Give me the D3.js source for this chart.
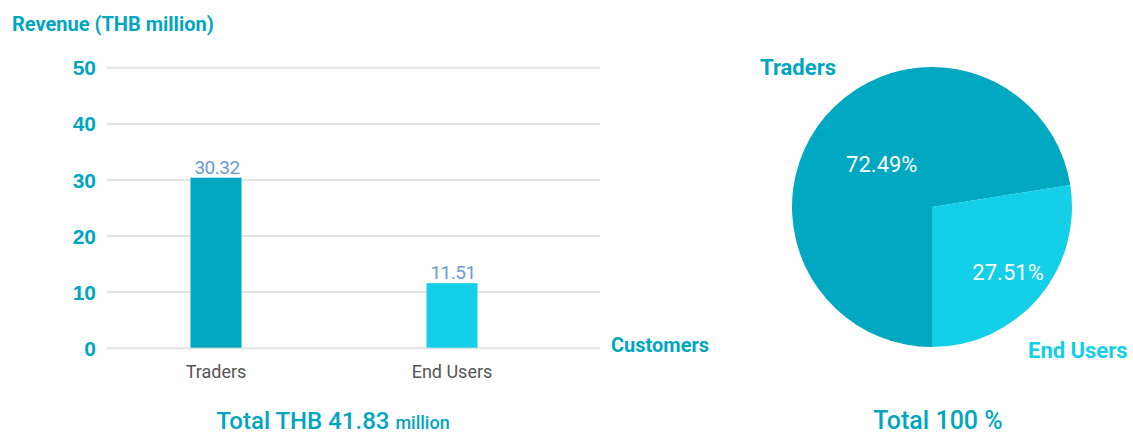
<!DOCTYPE html>
<html>
<head>
<meta charset="utf-8">
<script src="https://cdn.jsdelivr.net/npm/d3@7"></script>
<style>
  html, body { margin: 0; padding: 0; background: #ffffff; }
  svg { display: block; font-family: Roboto, "Noto Sans", sans-serif; }
</style>
</head>
<body>
<svg id="chart" width="1133" height="435"></svg>
<script>
// Revenue by customer group
const categories = ["Traders", "End Users"];
const revenue = [30.32, 11.51];               // THB million
const revenueLabels = ["30.32", "11.51"];
const yTicks = [0, 10, 20, 30, 40, 50];
const shares = [72.49, 27.51];                // % of total revenue
const shareLabels = ["72.49%", "27.51%"];
const totalRevenueText = "41.83";

const TEAL = "#00A8C1";
const CYAN = "#13CFE8";
const barColors = [TEAL, CYAN];
const TEXT_TEAL = "#00A6BF";

const svg = d3.select("#chart");

// ---------- Bar chart ----------
const x = d3.scalePoint().domain(categories).range([98, 570]).padding(0.5);
const y = d3.scaleLinear().domain([0, 50]).range([347.7, 67.3]);
const barWidth = 51;
const gridLeft = 107, gridRight = 600;

const yAxis = svg.append("g")
  .attr("transform", `translate(${gridLeft},0)`)
  .call(d3.axisLeft(y).tickValues(yTicks).tickSize(-(gridRight - gridLeft)).tickPadding(11));
yAxis.select(".domain").remove();
yAxis.selectAll(".tick line").attr("stroke", "#e3e3e3").attr("stroke-width", 2);
yAxis.selectAll(".tick text")
  .attr("fill", TEXT_TEAL)
  .style("font-size", "21px")
  .style("font-weight", "700")
  .attr("dy", "0.36em");

svg.append("text")
  .attr("x", 12).attr("y", 31)
  .attr("fill", TEXT_TEAL)
  .style("font-size", "20px").style("font-weight", "700")
  .text("Revenue (THB million)");

svg.append("g").selectAll("rect")
  .data(categories)
  .join("rect")
  .attr("x", d => x(d) - barWidth / 2)
  .attr("y", (d, i) => y(revenue[i]))
  .attr("width", barWidth)
  .attr("height", (d, i) => y(0) - y(revenue[i]))
  .attr("fill", (d, i) => barColors[i]);

svg.append("g").selectAll("text")
  .data(categories)
  .join("text")
  .attr("x", d => x(d) + 1)
  .attr("y", (d, i) => y(revenue[i]) - 4)
  .attr("text-anchor", "middle")
  .attr("fill", "#6A9BD1")
  .style("font-size", "19px")
  .style("letter-spacing", "-0.5px")
  .text((d, i) => revenueLabels[i]);

svg.append("g").selectAll("text")
  .data(categories)
  .join("text")
  .attr("x", d => x(d))
  .attr("y", 378)
  .attr("text-anchor", "middle")
  .attr("fill", "#555555")
  .style("font-size", "18px")
  .text(d => d);

svg.append("text")
  .attr("x", 611).attr("y", 352)
  .attr("fill", TEXT_TEAL)
  .style("font-size", "20px").style("font-weight", "700")
  .text("Customers");

const totalBar = svg.append("text")
  .attr("x", 333).attr("y", 429)
  .attr("text-anchor", "middle")
  .attr("fill", TEXT_TEAL)
  .style("font-weight", "500");
totalBar.append("tspan").style("font-size", "24px").text(`Total THB ${totalRevenueText} `);
totalBar.append("tspan").style("font-size", "18px").text("million");

// ---------- Pie chart ----------
const cx = 932, cy = 207, radius = 140;
const pie = d3.pie().sort(null).startAngle(Math.PI).endAngle(3 * Math.PI);
const arcs = pie(shares);
const arc = d3.arc().innerRadius(0).outerRadius(radius);
const labelRadius = [66, 100];

const pieG = svg.append("g").attr("transform", `translate(${cx},${cy})`);
pieG.selectAll("path")
  .data(arcs)
  .join("path")
  .attr("d", arc)
  .attr("fill", (d, i) => barColors[i]);

pieG.selectAll("text.pct")
  .data(arcs)
  .join("text")
  .attr("class", "pct")
  .attr("transform", (d, i) => {
    const c = d3.arc().innerRadius(labelRadius[i]).outerRadius(labelRadius[i]).centroid(d);
    return `translate(${c[0]},${c[1]})`;
  })
  .attr("text-anchor", "middle")
  .attr("dy", "0.36em")
  .attr("fill", "#ffffff")
  .style("font-size", "22px")
  .text((d, i) => shareLabels[i]);

svg.append("text")
  .attr("x", 760).attr("y", 75)
  .attr("fill", TEXT_TEAL)
  .style("font-size", "22px").style("font-weight", "700")
  .text(categories[0]);

svg.append("text")
  .attr("x", 1028).attr("y", 358)
  .attr("fill", CYAN)
  .style("font-size", "22px").style("font-weight", "700")
  .text(categories[1]);

svg.append("text")
  .attr("x", 938).attr("y", 429)
  .attr("text-anchor", "middle")
  .attr("fill", TEXT_TEAL)
  .style("font-size", "25px").style("font-weight", "500")
  .text("Total 100 %");
</script>
</body>
</html>
